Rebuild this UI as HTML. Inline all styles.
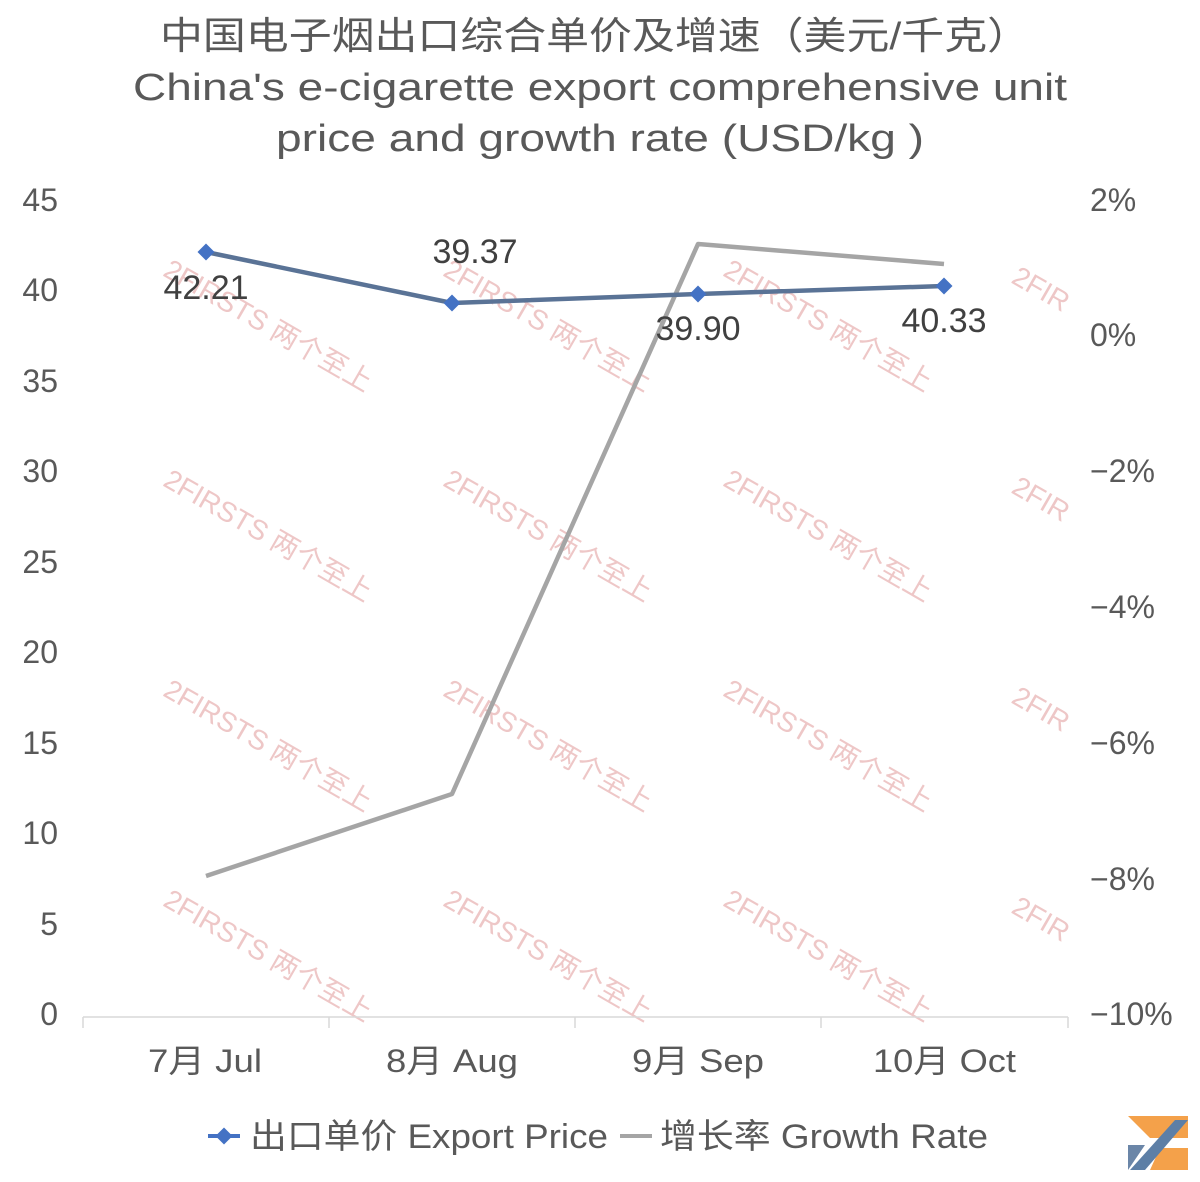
<!DOCTYPE html>
<html><head><meta charset="utf-8"><style>
html,body{margin:0;padding:0;background:#fff;}
svg{display:block;font-family:"Liberation Sans","Noto Sans CJK SC",sans-serif;}
</style></head><body>
<svg width="1200" height="1182" viewBox="0 0 1200 1182" xmlns="http://www.w3.org/2000/svg">
<rect width="1200" height="1182" fill="#fff"/>
<g fill="#595959" font-size="38">
<text x="160" y="49" textLength="870" lengthAdjust="spacingAndGlyphs">中国电子烟出口综合单价及增速（美元/千克）</text>
<text x="133" y="100" textLength="934" lengthAdjust="spacingAndGlyphs">China's e-cigarette export comprehensive unit</text>
<text x="276" y="151" textLength="648" lengthAdjust="spacingAndGlyphs">price and growth rate (USD/kg )</text>
</g>
<!-- watermarks -->
<g fill="#e8b4b4" opacity="0.75" font-size="28">
<g transform="translate(205,300) rotate(30)"><text x="-50" y="0">2FIRSTS 两个至上</text></g>
<g transform="translate(485,300) rotate(30)"><text x="-50" y="0">2FIRSTS 两个至上</text></g>
<g transform="translate(765,300) rotate(30)"><text x="-50" y="0">2FIRSTS 两个至上</text></g>
<g transform="translate(205,510) rotate(30)"><text x="-50" y="0">2FIRSTS 两个至上</text></g>
<g transform="translate(485,510) rotate(30)"><text x="-50" y="0">2FIRSTS 两个至上</text></g>
<g transform="translate(765,510) rotate(30)"><text x="-50" y="0">2FIRSTS 两个至上</text></g>
<g transform="translate(205,720) rotate(30)"><text x="-50" y="0">2FIRSTS 两个至上</text></g>
<g transform="translate(485,720) rotate(30)"><text x="-50" y="0">2FIRSTS 两个至上</text></g>
<g transform="translate(765,720) rotate(30)"><text x="-50" y="0">2FIRSTS 两个至上</text></g>
<g transform="translate(205,930) rotate(30)"><text x="-50" y="0">2FIRSTS 两个至上</text></g>
<g transform="translate(485,930) rotate(30)"><text x="-50" y="0">2FIRSTS 两个至上</text></g>
<g transform="translate(765,930) rotate(30)"><text x="-50" y="0">2FIRSTS 两个至上</text></g>
<g transform="translate(1010,282) rotate(30)"><text x="0" y="0">2FIR</text></g>
<g transform="translate(1010,492) rotate(30)"><text x="0" y="0">2FIR</text></g>
<g transform="translate(1010,702) rotate(30)"><text x="0" y="0">2FIR</text></g>
<g transform="translate(1010,912) rotate(30)"><text x="0" y="0">2FIR</text></g>
</g>
<!-- axes -->
<g fill="#595959" font-size="32">
<g text-anchor="end">
<text x="58" y="211">45</text><text x="58" y="301">40</text><text x="58" y="392">35</text>
<text x="58" y="482">30</text><text x="58" y="573">25</text><text x="58" y="663">20</text>
<text x="58" y="754">15</text><text x="58" y="844">10</text><text x="58" y="935">5</text>
<text x="58" y="1025">0</text>
</g>
<g text-anchor="start">
<text x="1090" y="211">2%</text><text x="1090" y="346">0%</text><text x="1090" y="482">−2%</text>
<text x="1090" y="618">−4%</text><text x="1090" y="754">−6%</text><text x="1090" y="890">−8%</text>
<text x="1090" y="1025">−10%</text>
</g>
<text x="148" y="1072" textLength="114" lengthAdjust="spacingAndGlyphs">7月 Jul</text>
<text x="386" y="1072" textLength="132" lengthAdjust="spacingAndGlyphs">8月 Aug</text>
<text x="632" y="1072" textLength="132" lengthAdjust="spacingAndGlyphs">9月 Sep</text>
<text x="873" y="1072" textLength="143" lengthAdjust="spacingAndGlyphs">10月 Oct</text>
</g>
<g stroke="#d9d9d9" stroke-width="1.5">
<line x1="83" y1="1017" x2="1068" y2="1017"/>
<line x1="83" y1="1017" x2="83" y2="1028"/><line x1="329" y1="1017" x2="329" y2="1028"/>
<line x1="575" y1="1017" x2="575" y2="1028"/><line x1="821" y1="1017" x2="821" y2="1028"/>
<line x1="1068" y1="1017" x2="1068" y2="1028"/>
</g>
<polyline points="206,876 452,794 698,244 944,264" fill="none" stroke="#a5a5a5" stroke-width="4.5" stroke-linejoin="round"/>
<polyline points="206,252 452,303 698,294 944,286" fill="none" stroke="#5a7396" stroke-width="4.5" stroke-linejoin="round"/>
<g fill="#4472c4">
<rect x="200" y="246" width="12" height="12" transform="rotate(45 206 252)"/>
<rect x="446" y="297" width="12" height="12" transform="rotate(45 452 303)"/>
<rect x="692" y="288" width="12" height="12" transform="rotate(45 698 294)"/>
<rect x="938" y="280" width="12" height="12" transform="rotate(45 944 286)"/>
</g>
<g fill="#404040" font-size="34" text-anchor="middle">
<text x="206" y="299">42.21</text><text x="475" y="263">39.37</text>
<text x="698" y="340">39.90</text><text x="944" y="332">40.33</text>
</g>
<!-- legend -->
<line x1="208" y1="1136" x2="240" y2="1136" stroke="#4472c4" stroke-width="4"/>
<rect x="218" y="1130" width="12" height="12" fill="#4472c4" transform="rotate(45 224 1136)"/>
<text x="250" y="1148" fill="#595959" font-size="34" textLength="358" lengthAdjust="spacingAndGlyphs">出口单价 Export Price</text>
<line x1="620" y1="1136" x2="652" y2="1136" stroke="#a5a5a5" stroke-width="4"/>
<text x="660" y="1148" fill="#595959" font-size="34" textLength="328" lengthAdjust="spacingAndGlyphs">增长率 Growth Rate</text>
<!-- logo -->
<g>
<polygon points="1128,1116 1188,1116 1188,1138 1150,1138" fill="#f4a14a"/>
<polygon points="1160,1148 1188,1148 1188,1170 1150,1170" fill="#f4a14a"/>
<polygon points="1128,1145 1145,1145 1128,1170" fill="#6b86a8"/>
<polygon points="1175,1120 1188,1120 1145,1170 1130,1170" fill="#5d7fa6"/>
</g>
</svg>
</body></html>
